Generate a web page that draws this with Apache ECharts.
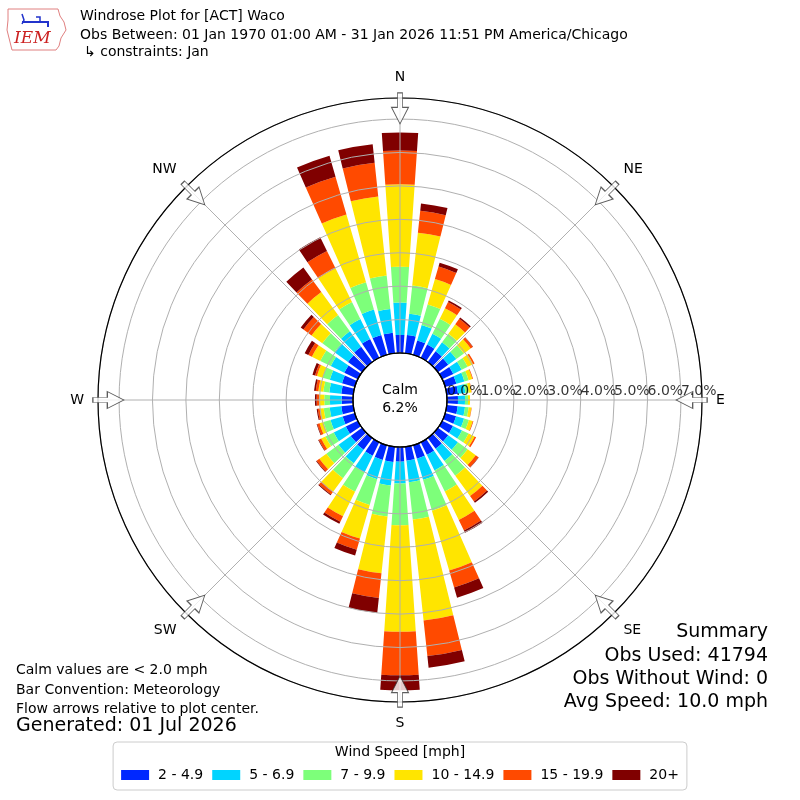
<!DOCTYPE html>
<html><head><meta charset="utf-8">
<script src="https://cdn.jsdelivr.net/npm/echarts@6/dist/echarts.min.js"></script>
<style>html,body{margin:0;padding:0;background:#fff}#c{width:800px;height:800px}</style>
</head><body><div id="c"></div>
<script>
// ---- data ----
const directions = [0,10,20,30,40,50,60,70,80,90,100,110,120,130,140,150,160,170,180,190,200,210,220,230,240,250,260,270,280,290,300,310,320,330,340,350];
const speedBins = ['2 - 4.9','5 - 6.9','7 - 9.9','10 - 14.9','15 - 19.9','20+'];
const binColors = ['#0028ff','#00d4ff','#7dff7a','#ffe500','#ff4a00','#800000'];
const s_2_4 = [0.54,0.55,0.45,0.44,0.40,0.38,0.37,0.35,0.34,0.33,0.33,0.34,0.36,0.38,0.40,0.42,0.42,0.42,0.44,0.46,0.46,0.45,0.44,0.42,0.40,0.38,0.36,0.34,0.36,0.40,0.45,0.52,0.57,0.63,0.62,0.62];
const s_5_6 = [0.97,0.64,0.48,0.36,0.33,0.30,0.28,0.25,0.22,0.21,0.22,0.25,0.30,0.36,0.45,0.52,0.66,0.65,0.65,0.71,0.60,0.55,0.50,0.45,0.40,0.38,0.35,0.35,0.36,0.38,0.45,0.50,0.57,0.66,0.79,0.71];
const s_7_9 = [1.07,0.85,0.64,0.50,0.32,0.28,0.20,0.13,0.10,0.09,0.11,0.15,0.22,0.36,0.55,0.70,0.96,1.12,1.25,0.93,0.80,0.65,0.55,0.45,0.28,0.22,0.18,0.17,0.18,0.22,0.35,0.45,0.60,0.57,0.85,1.01];
const s_10_14 = [2.47,1.59,0.79,0.35,0.35,0.25,0.18,0.12,0.08,0.06,0.08,0.12,0.20,0.30,0.75,0.95,1.86,3.04,3.19,1.71,1.05,0.82,0.50,0.26,0.14,0.12,0.12,0.16,0.15,0.18,0.28,0.40,0.85,1.12,2.11,2.38];
const s_15_19 = [1.01,0.66,0.39,0.21,0.20,0.08,0.05,0.02,0.01,0.00,0.01,0.02,0.05,0.10,0.20,0.35,0.53,1.07,1.30,0.74,0.35,0.18,0.10,0.10,0.08,0.07,0.06,0.07,0.08,0.06,0.12,0.30,0.47,0.58,1.18,1.01];
const s_20p = [0.54,0.22,0.12,0.05,0.05,0.01,0.00,0.00,0.00,0.00,0.00,0.00,0.00,0.01,0.05,0.08,0.32,0.35,0.45,0.45,0.18,0.07,0.03,0.02,0.02,0.02,0.03,0.05,0.05,0.08,0.12,0.10,0.44,0.46,0.65,0.56];
const seriesValues = [s_2_4, s_5_6, s_7_9, s_10_14, s_15_19, s_20p];
const compassAngles = [0,45,90,135,180,225,270,315];
const compassNames = ['N','NE','E','SE','S','SW','W','NW'];
const ringTicks = [0,1,2,3,4,5,6,7];
const ringLabelAngle = 90; // labels drawn along the East direction
const radialMax = 7.63;
const arrowRadius = 7.32;
const calmPct = 6.2;

const FONT = 'DejaVu Sans';
const chart = echarts.init(document.getElementById('c'), null, {renderer:'canvas'});

const polarDef = {center:['50%','50%'], radius:[47,302]};
const series = speedBins.map((name,i)=>({
  name, type:'bar', coordinateSystem:'polar', polarIndex:0, stack:'total',
  barCategoryGap:'22%', data: seriesValues[i], itemStyle:{color:binColors[i]},
  emphasis:{disabled:true}, z:2
}));
// flow arrows
series.push({
  type:'scatter', coordinateSystem:'polar', polarIndex:1, z:20,
  symbol:'path://M6,0L11,0L11,14L17,14L8.5,30L0,14L6,14Z', symbolSize:[17,31],
  itemStyle:{color:'#fff', borderColor:'#333', borderWidth:1},
  emphasis:{disabled:true}, silent:true,
  data: compassAngles.map(a=>({value:[arrowRadius,a], symbolRotate:-a}))
});
// ring labels
series.push({
  type:'scatter', coordinateSystem:'polar', polarIndex:1, z:21, symbolSize:0.1,
  itemStyle:{color:'transparent'}, silent:true, emphasis:{disabled:true},
  label:{show:true, position:'top', distance:2, align:'left', fontSize:14, fontFamily:FONT, color:'#000',
    formatter:(p)=>p.value[0].toFixed(1)+'%'},
  labelLayout:{hideOverlap:false},
  data: ringTicks.map(t=>[t, ringLabelAngle])
});

const txt = (o)=>Object.assign({type:'text', silent:true}, o);
chart.setOption({
  animation:false,
  backgroundColor:'#fff',
  polar:[polarDef, polarDef, polarDef, {center:['50%','50%'], radius:[0,47]}],
  angleAxis:[
    {polarIndex:0, type:'category', data:directions.map(String), startAngle:95, clockwise:true, show:false},
    {polarIndex:1, type:'value', min:0, max:360, interval:45, startAngle:90, clockwise:true, z:6,
      axisLine:{show:true, lineStyle:{color:'#000', width:1.2}}, axisTick:{show:false},
      splitLine:{show:true, lineStyle:{color:'#b0b0b0', width:1}},
      axisLabel:{margin:14, fontSize:14, fontFamily:FONT, color:'#000',
        formatter:(v)=>{const k=compassAngles.indexOf(v); return k>=0?compassNames[k]:'';}}},
    {polarIndex:2, type:'value', min:0, max:360, startAngle:0, show:false},
    {polarIndex:3, type:'value', min:0, max:360, startAngle:0, z:7,
      axisLine:{show:true, lineStyle:{color:'#000', width:1.2}}, axisTick:{show:false},
      axisLabel:{show:false}, splitLine:{show:false}}
  ],
  radiusAxis:[
    {polarIndex:0, type:'value', min:0, max:radialMax, show:false},
    {polarIndex:1, type:'value', min:0, max:radialMax, show:false},
    {polarIndex:2, type:'value', min:0, max:radialMax, interval:1, z:5,
      axisLine:{show:false}, axisTick:{show:false}, axisLabel:{show:false},
      splitLine:{show:true, lineStyle:{color:'#b0b0b0', width:1}}},
    {polarIndex:3, type:'value', min:0, max:1, show:false}
  ],
  legend:{
    data:speedBins, top:742, left:'center', icon:'rect', itemWidth:28, itemHeight:10, itemGap:9,
    padding:[26,8,8,8], borderColor:'#cccccc', borderWidth:1, borderRadius:4,
    textStyle:{fontSize:14, fontFamily:FONT, color:'#000', padding:[0,0,0,4]},
    selectedMode:false
  },
  series,
  graphic:[
    // logo
    {type:'polygon', silent:true, shape:{points:[[8,9],[58,9],[60,16],[64,22],[66,30],[61,38],[59,46],[56,50],[12,50],[10,42],[7,30],[8,20]]},
      style:{fill:'#fff', stroke:'#e08080', lineWidth:1}},
    {type:'polyline', silent:true, shape:{points:[[22,22],[48,22],[48,27]]}, style:{stroke:'#2233cc', lineWidth:2, fill:null}},
    {type:'polyline', silent:true, shape:{points:[[22,14],[24,20],[22,24]]}, style:{stroke:'#2233cc', lineWidth:1.5, fill:null}},
    {type:'polyline', silent:true, shape:{points:[[36,17],[40,17],[40,22]]}, style:{stroke:'#2233cc', lineWidth:1.5, fill:null}},
    txt({left:14, top:30, style:{text:'IEM', fontSize:17, fontFamily:'DejaVu Serif', fontStyle:'italic', fill:'#cc2222'}}),
    // header
    txt({left:80, top:9, style:{text:'Windrose Plot for [ACT] Waco', fontSize:14, fontFamily:FONT, fill:'#000'}}),
    txt({left:80, top:28, style:{text:'Obs Between: 01 Jan 1970 01:00 AM - 31 Jan 2026 11:51 PM America/Chicago', fontSize:14, fontFamily:FONT, fill:'#000'}}),
    txt({left:84, top:45, style:{text:'\u21b3 constraints: Jan', fontSize:14, fontFamily:FONT, fill:'#000'}}),
    // calm
    txt({x:400, y:390, style:{text:'Calm', fontSize:14, fontFamily:FONT, fill:'#000', align:'center', verticalAlign:'middle'}}),
    txt({x:400, y:408, style:{text:calmPct.toFixed(1)+'%', fontSize:14, fontFamily:FONT, fill:'#000', align:'center', verticalAlign:'middle'}}),
    // bottom-left notes
    txt({left:16, top:663, style:{text:'Calm values are < 2.0 mph', fontSize:14, fontFamily:FONT, fill:'#000'}}),
    txt({left:16, top:683, style:{text:'Bar Convention: Meteorology', fontSize:14, fontFamily:FONT, fill:'#000'}}),
    txt({left:16, top:702, style:{text:'Flow arrows relative to plot center.', fontSize:14, fontFamily:FONT, fill:'#000'}}),
    txt({left:16, top:717, style:{text:'Generated: 01 Jul 2026', fontSize:19, fontFamily:FONT, fill:'#000'}}),
    // summary
    txt({right:32, top:623, style:{text:'Summary', fontSize:19, fontFamily:FONT, fill:'#000'}}),
    txt({right:32, top:647, style:{text:'Obs Used: 41794', fontSize:19, fontFamily:FONT, fill:'#000'}}),
    txt({right:32, top:670, style:{text:'Obs Without Wind: 0', fontSize:19, fontFamily:FONT, fill:'#000'}}),
    txt({right:32, top:693, style:{text:'Avg Speed: 10.0 mph', fontSize:19, fontFamily:FONT, fill:'#000'}}),
    // legend title
    txt({x:400, y:752, z:100, style:{text:'Wind Speed [mph]', fontSize:14, fontFamily:FONT, fill:'#000', align:'center', verticalAlign:'middle'}})
  ]
});
</script></body></html>
